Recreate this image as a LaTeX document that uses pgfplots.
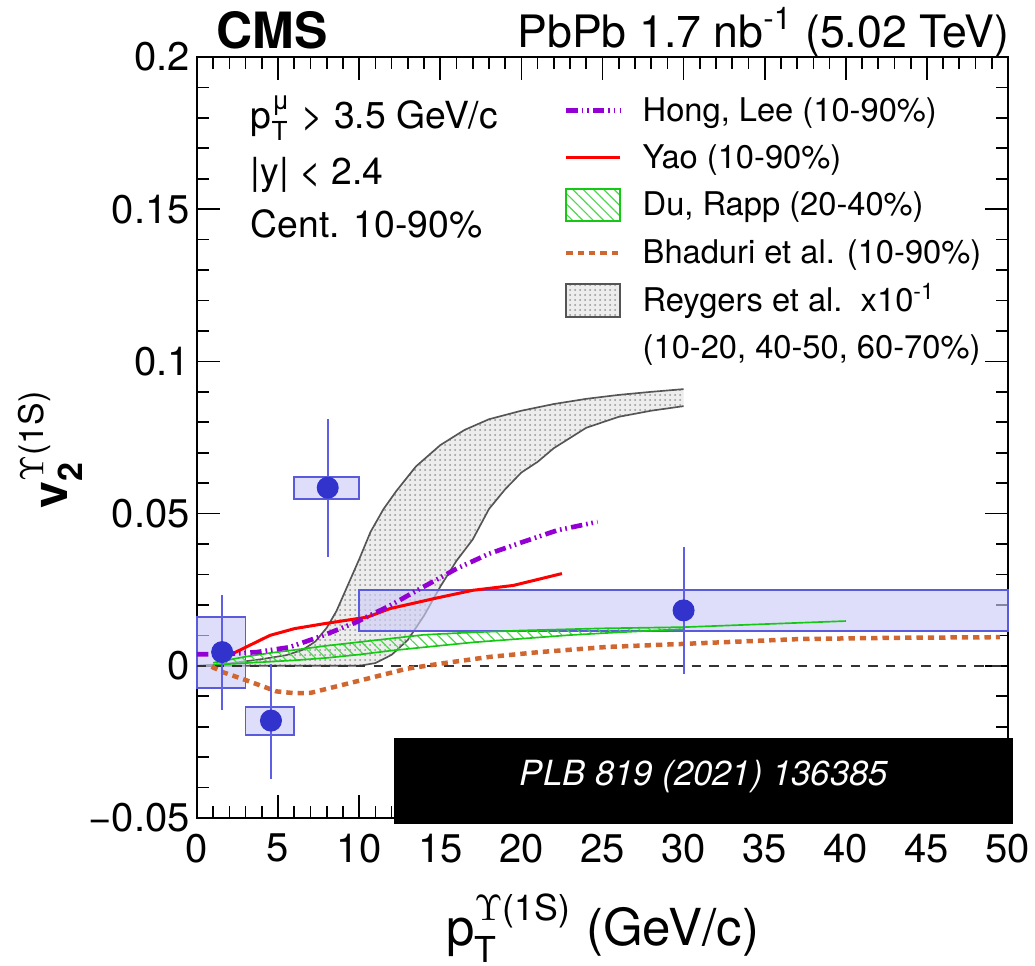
\documentclass[border=0pt]{standalone}
\usepackage{fontspec}
\setmainfont{TeX Gyre Heros}
\usepackage{amsmath}
\usepackage{pgfplots}
\pgfplotsset{compat=1.18}
\usetikzlibrary{patterns,patterns.meta}

\definecolor{datablue}{RGB}{50,50,205}
\definecolor{errblue}{RGB}{95,95,230}
\definecolor{boxfill}{RGB}{205,205,247}
\definecolor{boxedge}{RGB}{90,90,220}
\definecolor{hlpurple}{RGB}{148,0,211}
\definecolor{yaored}{RGB}{255,0,0}
\definecolor{drgreen}{RGB}{20,200,20}
\definecolor{bhorange}{RGB}{208,102,48}
\definecolor{reyedge}{RGB}{85,85,85}

\pgfplotstableread{
x y ep em
1.55 0.0045 0.0186 0.0190
4.56 -0.0180 0.0187 0.0192
8.06 0.0585 0.0225 0.0227
30.0 0.0182 0.0208 0.0208
}\datatable

\tikzset{
  hlstyle/.style={hlpurple, line width=1.4pt, dash pattern=on 3.4pt off 1.2pt on 0.5pt off 1.1pt on 0.5pt off 1.3pt},
  yaostyle/.style={yaored, line width=0.9pt},
  bhstyle/.style={bhorange, line width=1.35pt, dash pattern=on 1.9pt off 1.5pt},
  drfill/.style={pattern={Lines[angle=-45,distance=2.2pt,line width=0.35pt]}, pattern color=drgreen!75},
  reyfill/.style={fill=gray!14, postaction={pattern={Dots[distance=1.5pt,radius=0.3pt]}, pattern color=gray!85}},
}

\begin{document}
\begin{tikzpicture}
\path[use as bounding box] (0,0) rectangle (310.5pt,289.5pt);
\begin{axis}[
  at={(59.1pt,44.1pt)}, anchor=south west,
  scale only axis, width=243.3pt, height=228.3pt,
  xmin=0, xmax=50, ymin=-0.05, ymax=0.2,
  xtick={0,5,10,15,20,25,30,35,40,45,50},
  xticklabels={0,5,10,15,20,25,30,35,40,45,50},
  ytick={-0.05,0,0.05,0.1,0.15,0.2},
  yticklabels={−0.05,0,0.05,0.1,0.15,0.2},
  minor x tick num=4, minor y tick num=4,
  tick align=inside, xtick pos=both, ytick pos=both,
  major tick length=7pt, minor tick length=3.6pt,
  tick style={black, line width=0.5pt},
  axis line style={line width=0.6pt},
  ticklabel style={font=\fontsize{12}{14}\selectfont},
  xticklabel style={inner sep=0pt, yshift=-4.5pt},
  yticklabel style={inner sep=0pt, xshift=-2pt},
  /pgf/number format/assume math mode=true,
  clip=false,
  legend cell align=left,
  legend style={at={(axis cs:22.63,0.1877)}, anchor=north west, draw=none, fill=none,
    inner sep=0pt, outer sep=0pt, font=\fontsize{9.8}{12}\selectfont, row sep=4.2pt,
    column sep=6pt,
    cells={anchor=west},
    nodes={inner sep=0pt, text height=8.1pt, text depth=1.7pt}},
]

% Reygers band (x10^-1)
\addplot[forget plot, draw=none, reyfill] coordinates {
(0,0) (2,0.0008) (4,0.0022) (5.5,0.0035) (6.5,0.0052) (7.3,0.008) (8,0.0125) (8.6,0.018) (9.3,0.0265) (10,0.035) (10.7,0.044) (11.5,0.0515) (12.3,0.0575) (13.5,0.0655) (15,0.0725) (16.5,0.0775) (18,0.081) (20,0.0838) (22,0.086) (24,0.0877) (26,0.089) (28,0.09) (30,0.0909)
(30,0.0853) (28,0.0838) (26,0.0818) (24,0.0782) (22,0.0715) (21,0.067) (20,0.0635) (19,0.058) (18,0.0515) (17,0.0415) (16,0.0345) (15,0.026) (14,0.0165) (13,0.0085) (12,0.0036) (11,0.0009) (10,0) (0,0)} -- cycle;
\addplot[forget plot, reyedge, line width=0.5pt] coordinates {
(0,0) (2,0.0008) (4,0.0022) (5.5,0.0035) (6.5,0.0052) (7.3,0.008) (8,0.0125) (8.6,0.018) (9.3,0.0265) (10,0.035) (10.7,0.044) (11.5,0.0515) (12.3,0.0575) (13.5,0.0655) (15,0.0725) (16.5,0.0775) (18,0.081) (20,0.0838) (22,0.086) (24,0.0877) (26,0.089) (28,0.09) (30,0.0909)};
\addplot[forget plot, reyedge, line width=0.5pt] coordinates {
(0,0) (10,0) (11,0.0009) (12,0.0036) (13,0.0085) (14,0.0165) (15,0.026) (16,0.0345) (17,0.0415) (18,0.0515) (19,0.058) (20,0.0635) (21,0.067) (22,0.0715) (24,0.0782) (26,0.0818) (28,0.0838) (30,0.0853)};

% systematic boxes
\addplot[forget plot, draw=boxedge, line width=0.5pt, fill=boxfill, fill opacity=0.65] coordinates {(0,-0.0073) (3,-0.0073) (3,0.0160) (0,0.0160)} -- cycle;
\addplot[forget plot, draw=boxedge, line width=0.5pt, fill=boxfill, fill opacity=0.65] coordinates {(3,-0.0227) (6,-0.0227) (6,-0.0136) (3,-0.0136)} -- cycle;
\addplot[forget plot, draw=boxedge, line width=0.5pt, fill=boxfill, fill opacity=0.65] coordinates {(6,0.0547) (10,0.0547) (10,0.0620) (6,0.0620)} -- cycle;
\addplot[forget plot, draw=boxedge, line width=0.5pt, fill=boxfill, fill opacity=0.65] coordinates {(10,0.0114) (50,0.0114) (50,0.0250) (10,0.0250)} -- cycle;

% Du, Rapp band
\addplot[forget plot, draw=none, drfill] coordinates {
(1,0.001) (3,0.003) (4.5,0.0042) (6,0.0052) (8,0.0066) (10,0.0078) (12,0.009) (14,0.0102) (17,0.011) (20,0.0116) (25,0.0123) (30,0.0127)
(30,0.012) (29,0.0118) (26,0.011) (23,0.0101) (20,0.0089) (17,0.0077) (14,0.0061) (12,0.005) (10,0.0037) (8,0.0026) (6,0.0018) (4,0.0012) (1,0.0003)} -- cycle;
\addplot[forget plot, drgreen, line width=0.5pt] coordinates {
(1,0.001) (3,0.003) (4.5,0.0042) (6,0.0052) (8,0.0066) (10,0.0078) (12,0.009) (14,0.0102) (17,0.011) (20,0.0116) (25,0.0123) (30,0.0127) (35,0.0137) (40,0.0147)};
\addplot[forget plot, drgreen, line width=0.5pt] coordinates {
(1,0.0003) (4,0.0012) (6,0.0018) (8,0.0026) (10,0.0037) (12,0.005) (14,0.0061) (17,0.0077) (20,0.0089) (23,0.0101) (26,0.011) (29,0.0118) (30,0.012)};

% zero line
\addplot[forget plot, black!80, line width=0.45pt, dash pattern=on 2.8pt off 2.5pt] coordinates {(0,0) (50,0)};

% Bhaduri et al.
\addplot[forget plot, bhstyle] coordinates {
(0.9,-0.0003) (1.6,-0.0021) (3.06,-0.0048) (4.9,-0.0084) (6,-0.009) (7.0,-0.0089) (8.8,-0.0065) (10.9,-0.0037) (12.9,-0.001) (15,0.0007) (18,0.0029) (21.1,0.0045) (25.3,0.0062) (30,0.0072) (37.2,0.0088) (43,0.0092) (49.5,0.0094)};

% Yao
\addplot[forget plot, yaostyle] coordinates {
(1.55,0.0023) (4.5,0.010) (6,0.0122) (7.8,0.0138) (10.5,0.016) (11.9,0.0188) (14.8,0.0223) (17,0.0248) (19.5,0.0264) (22.5,0.0303)};

% Hong, Lee
\addplot[forget plot, hlstyle] coordinates {
(0,0.0038) (1.6,0.0038) (3.7,0.0045) (5.7,0.0061) (7.8,0.010) (9.85,0.0144) (11.9,0.0198) (13.95,0.0259) (16,0.0319) (18,0.0368) (20.1,0.0407) (22.2,0.0445) (24.7,0.0473)};

% data
\addplot[forget plot, only marks, mark=*, mark size=3.1pt, mark options={draw=datablue, fill=datablue},
  error bars/.cd, y dir=both, y explicit, error mark=none,
  error bar style={errblue, line width=0.6pt}]
  table[x=x, y=y, y error plus=ep, y error minus=em] {\datatable};

% legend
\addlegendimage{legend image code/.code={\draw[hlstyle] (0pt,0pt) -- (16.2pt,0pt);}}
\addlegendentry{Hong, Lee (10-90\%)}
\addlegendimage{legend image code/.code={\draw[yaostyle] (0pt,0pt) -- (16.2pt,0pt);}}
\addlegendentry{Yao (10-90\%)}
\addlegendimage{legend image code/.code={\draw[drgreen, line width=0.6pt, drfill] (0pt,-4.9pt) rectangle (16.2pt,4.9pt);}}
\addlegendentry{Du, Rapp (20-40\%)}
\addlegendimage{legend image code/.code={\draw[bhstyle] (0pt,0pt) -- (16.2pt,0pt);}}
\addlegendentry{Bhaduri et al. (10-90\%)}
\addlegendimage{legend image code/.code={\draw[reyedge, line width=0.6pt, reyfill] (0pt,-4.9pt) rectangle (16.2pt,4.9pt);}}
\addlegendentry{Reygers et al.\ \ x10$^{\text{-1}}$}
\addlegendimage{empty legend}
\addlegendentry{(10-20, 40-50, 60-70\%)}

% PLB box
\fill[black] (axis cs:12.15,-0.0237) rectangle (axis cs:50.3,-0.0520);
\node[white, font=\fontsize{10.4}{12}\selectfont\itshape] at (axis cs:31.26,-0.0365) {PLB 819 (2021) 136385};

% texts
\node[anchor=base west, font=\fontsize{11.2}{13}\selectfont] at (axis cs:2.6,0.1766) {p$_{\text{T}}^{\text{μ}}$ > 3.5 GeV/c};
\node[anchor=base west, font=\fontsize{11.2}{13}\selectfont] at (axis cs:2.6,0.1580) {|y| < 2.4};
\node[anchor=base west, font=\fontsize{11.2}{13}\selectfont] at (axis cs:2.6,0.1408) {Cent. 10-90\%};

\node[anchor=base west, font=\fontsize{15}{17}\selectfont\bfseries, xshift=-4pt] at (rel axis cs:0.0259,1.0118) {CMS};
\node[anchor=base east, font=\fontsize{13.4}{16}\selectfont, xshift=4pt] at (rel axis cs:1,1.0131) {PbPb 1.7 nb$^{\text{-1}}$ (5.02 TeV)};

\node[anchor=base, font=\fontsize{15.3}{18}\selectfont] at (rel axis cs:0.5,-0.1669) {p$_{\text{T}}^{\Upsilon\text{(1S)}}$ (GeV/c)};
\node[anchor=base, rotate=90, font=\fontsize{14.5}{17}\selectfont] at (rel axis cs:-0.1603,0.485) {$\textbf{v}_{\textbf{2}}^{\Upsilon\text{(1S)}}$};
\end{axis}
\end{tikzpicture}
\end{document}
